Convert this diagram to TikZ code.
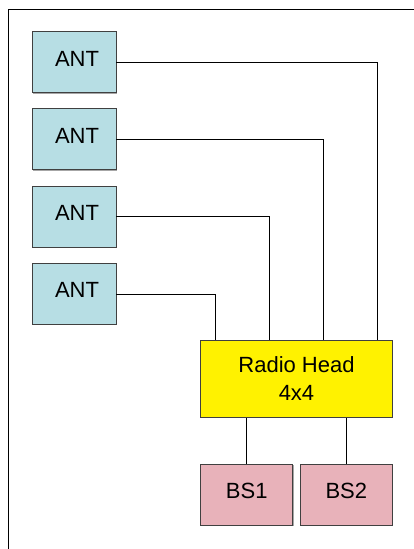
\documentclass[tikz,border=0pt]{standalone}
\usepackage{fontspec}
\setmainfont{Liberation Sans}
\usepackage{tikz}
\usetikzlibrary{positioning,shadows}

\definecolor{antcol}{RGB}{183,222,228}
\definecolor{bscol}{RGB}{232,178,186}
\definecolor{edgecol}{RGB}{64,64,64}

\begin{document}
\begin{tikzpicture}[x=1pt, y=-1pt, node distance=77.3pt,
  box/.style={draw=edgecol, line width=0.8pt, inner sep=0pt, align=center,
    font=\fontsize{22}{28}\selectfont,
    drop shadow={shadow xshift=1pt, shadow yshift=-1pt, fill=gray!70, opacity=1}},
  ant/.style={box, fill=antcol, minimum width=84pt, minimum height=61pt, text height=16pt, text depth=8pt},
  bs/.style={box, fill=bscol, minimum width=92pt, minimum height=61.3pt, text height=16pt, text depth=9pt},
  link/.style={draw=black, line width=0.7pt}]
\useasboundingbox (0,0) rectangle (414,549);
% frame
\draw[line width=1pt] (414,9) -- (8,9) -- (8,549);
% antennas
\node[ant] (ant1) at (74,62) {\hspace*{6pt}ANT};
\node[ant, below of=ant1] (ant2) {\hspace*{6pt}ANT};
\node[ant, below of=ant2] (ant3) {\hspace*{6pt}ANT};
\node[ant, below of=ant3] (ant4) {\hspace*{6pt}ANT};
% radio head and base stations
\node[box, fill=yellow, minimum width=191.6pt, minimum height=76.6pt] (rh) at (296.5,379) {Radio Head\\4x4};
\node[bs] (bs1) at (246.7,494.7) {BS1};
\node[bs] (bs2) at (346.3,494.7) {BS2};
% links
\draw[link] (ant1.east) -| ([xshift=177pt] rh.north west);
\draw[link] (ant2.east) -| ([xshift=123pt] rh.north west);
\draw[link] (ant3.east) -| ([xshift=69.3pt] rh.north west);
\draw[link] (ant4.east) -| ([xshift=15.3pt] rh.north west);
\draw[link] (bs1.north) -- (bs1.north |- rh.south);
\draw[link] (bs2.north) -- (bs2.north |- rh.south);
\end{tikzpicture}
\end{document}
